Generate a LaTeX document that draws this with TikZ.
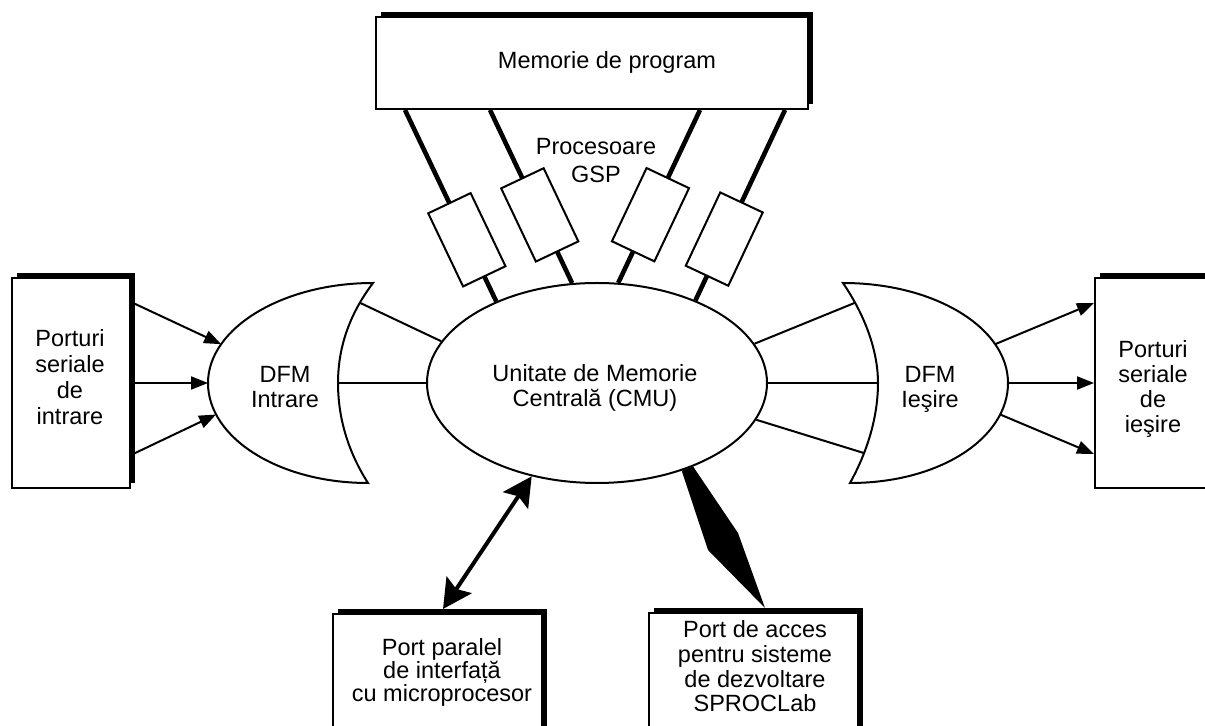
\documentclass[tikz,border=0pt]{standalone}
\usepackage{fontspec}
\setmainfont{Liberation Sans}
\usetikzlibrary{shapes.geometric,shadows,arrows.meta}

\begin{document}
\begin{tikzpicture}[x=0.5pt,y=-0.5pt,
  lbl/.style={font=\fontsize{11.75pt}{12.5pt}\selectfont, align=center, inner sep=0pt},
  blk/.style={draw, fill=white, line width=1pt, inner sep=0pt,
    drop shadow={shadow xshift=2.3pt, shadow yshift=2.5pt, opacity=1, fill=black}},
  wire/.style={line width=1pt},
  bus/.style={line width=2.3pt},
  feed/.style={line width=1pt, -{Triangle[length=8.5pt,width=6.5pt]}},
  gspbox/.style={draw, fill=white, line width=1pt, minimum width=40.5pt,
    minimum height=23.5pt, inner sep=0pt, sloped},
  twoway/.style={line width=2pt,
    {Stealth[length=14.5pt,width=15pt,inset=2.5pt]}-{Stealth[length=14.5pt,width=15pt,inset=2.5pt]}},
]
\useasboundingbox (0,0) rectangle (1205,726);
\fill[white] (0,0) rectangle (1205,726);
\clip (0,0) rectangle (1205,726);

% blocks with offset shadows
\node[blk, minimum width=216pt, minimum height=46pt] (mp) at (592,63) {};
\node[blk, minimum width=59pt, minimum height=105pt] (pin) at (71,383) {};
\node[blk, minimum width=59pt, minimum height=105pt] (pout) at (1154,383) {};
\node[blk, minimum width=104.5pt, minimum height=73pt] (ppar) at (437.5,687) {};
\node[blk, minimum width=104.5pt, minimum height=73.5pt] (pacc) at (753.5,686.5) {};

% central memory unit
\node[draw, ellipse, fill=white, line width=1pt, inner sep=0pt,
      minimum width=170pt, minimum height=100pt] (cmu) at (597,383) {};

% input DFM
\draw[wire, fill=white] (373,283)
  .. controls (345,320) and (338,355) .. coordinate[pos=0.18] (dlb) (338,383) coordinate (dlm)
  .. controls (338,412) and (345,447) .. (368,483)
  .. controls (279,483) and (208,438) .. coordinate[pos=0.8] (dlf3) (208,383) coordinate (dlf2)
  .. controls (208,328) and (283,283) .. coordinate[pos=0.25] (dlf1) (373,283) -- cycle;

% output DFM
\draw[wire, fill=white] (843,283)
  .. controls (868,320) and (878,355) .. coordinate[pos=0.18] (drb) (878,383) coordinate (drm)
  .. controls (878,412) and (870,447) .. coordinate[pos=0.72] (drb3) (850,483)
  .. controls (940,483) and (1008,438) .. coordinate[pos=0.8] (drf3) (1008,383) coordinate (drf2)
  .. controls (1008,328) and (935,283) .. coordinate[pos=0.25] (drf1) (843,283) -- cycle;

% serial inputs
\draw[feed] ([yshift=40.5pt]pin.east) -- (dlf1);
\draw[feed] (pin.east) -- (dlf2);
\draw[feed] ([yshift=-36pt]pin.east) -- (dlf3);

% DFM to CMU links
\draw[wire] (dlb) -- (cmu.165.9);
\draw[wire] (dlm) -- (cmu.west);
\draw[wire] (drb) -- (cmu.14);
\draw[wire] (drm) -- (cmu.east);
\draw[wire] (drb3) -- (cmu.347.7);

% serial outputs
\draw[feed] (drf1) -- ([yshift=40pt]pout.west);
\draw[feed] (drf2) -- (pout.west);
\draw[feed] (drf3) -- ([yshift=-35.5pt]pout.west);

% GSP processors on their buses
\draw[bus] ([xshift=-93.5pt]mp.south) -- node[gspbox, pos=0.678] (g1) {} (cmu.141.1);
\draw[bus] ([xshift=-51pt]mp.south) -- node[gspbox, pos=0.606] (g2) {} (cmu.104.4);
\draw[bus] ([xshift=54pt]mp.south) -- node[gspbox, pos=0.606] (g3) {} (cmu.78.3);
\draw[bus] ([xshift=96.5pt]mp.south) -- node[gspbox, pos=0.678] (g4) {} (cmu.40.3);

% parallel microprocessor port link
\draw[twoway] ([xshift=2.75pt,yshift=2pt]ppar.north) -- (cmu.235);

% development access port link
\coordinate (kr) at (738,533);
\coordinate (kl) at (708,550);
\fill[black] (cmu.314) -- (cmu.319.2) -- (kr) -- ([xshift=5.75pt,yshift=2pt]pacc.north) -- (kl) -- cycle;

% labels
\node[lbl] (tmp) at (607,62.5) {Memorie de program};
\node[lbl, font=\fontsize{11.75pt}{13.85pt}\selectfont] (tgsp) at (596,160.5) {Procesoare\\GSP};
\node[lbl] (tdi) at (285,387) {DFM\\Intrare};
\node[lbl] (tcmu) at (595,388) {Unitate de Memorie\\Centrală (CMU)};
\node[lbl] (tdo) at (930,389.5) {DFM\\Ieşire};
\node[lbl, font=\fontsize{11.75pt}{13pt}\selectfont] (tpin) at (70,377.5) {Porturi\\seriale\\de\\intrare};
\node[lbl, font=\fontsize{11.75pt}{12.65pt}\selectfont] (tpout) at (1153,389) {Porturi\\seriale\\de\\ieşire};
\node[lbl, font=\fontsize{11.75pt}{11.7pt}\selectfont] (tpar) at (442,672.4) {Port paralel\\de interfață\\cu microprocesor};
\node[lbl, font=\fontsize{11.75pt}{12.35pt}\selectfont] (tacc) at (755,666.5) {Port de acces\\pentru sisteme\\de dezvoltare\\SPROCLab};
\end{tikzpicture}
\end{document}
